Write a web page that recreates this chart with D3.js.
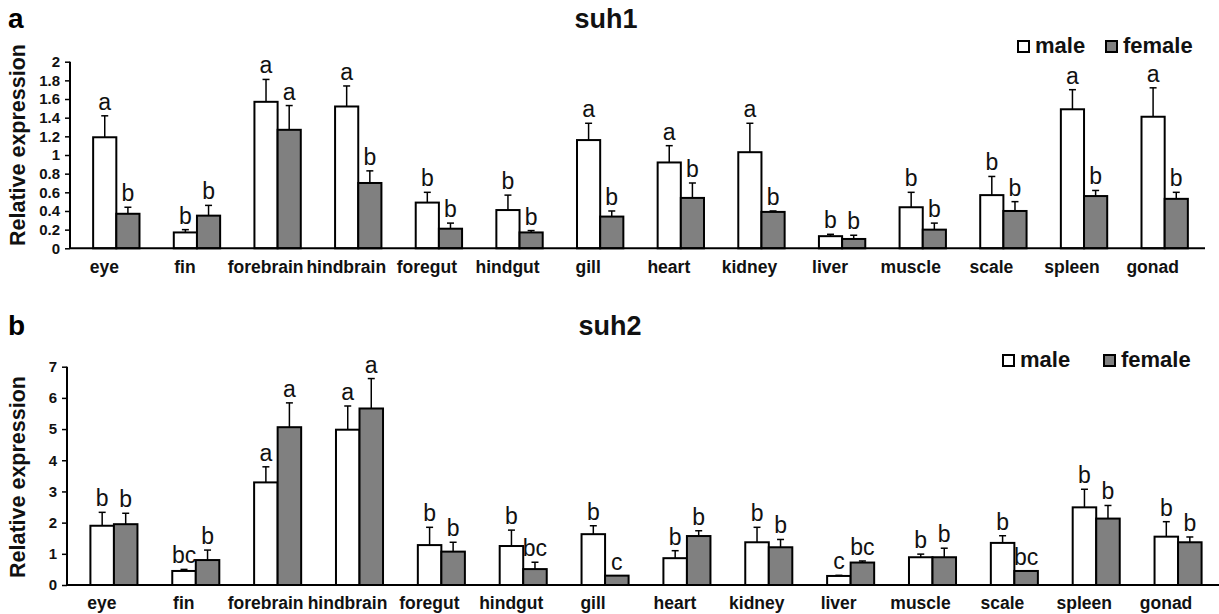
<!DOCTYPE html>
<html>
<head>
<meta charset="utf-8">
<script src="https://cdn.jsdelivr.net/npm/d3@7/dist/d3.min.js"></script>
<style>
  html, body { margin: 0; padding: 0; background: #fff; }
  svg { display: block; font-family: "Liberation Sans", Arial, sans-serif; }
</style>
</head>
<body>
<svg id="chart" width="1219" height="614"></svg>
<script>
// ---------- data ----------
const categories = ["eye","fin","forebrain","hindbrain","foregut","hindgut","gill","heart","kidney","liver","muscle","scale","spleen","gonad"];
const seriesNames = ["male","female"];

const suh1Male      = [1.19,0.17,1.57,1.52,0.49,0.41,1.16,0.92,1.03,0.13,0.44,0.57,1.49,1.41];
const suh1MaleErr   = [0.23,0.03,0.24,0.22,0.11,0.16,0.18,0.18,0.31,0.02,0.16,0.20,0.21,0.31];
const suh1Female    = [0.37,0.35,1.27,0.70,0.21,0.17,0.34,0.54,0.39,0.10,0.20,0.40,0.56,0.53];
const suh1FemaleErr = [0.07,0.11,0.26,0.13,0.06,0.02,0.06,0.16,0.01,0.04,0.07,0.10,0.06,0.07];
const suh1MaleSig   = ["a","b","a","a","b","b","a","a","a","b","b","b","a","a"];
const suh1FemaleSig = ["b","b","a","b","b","b","b","b","b","b","b","b","b","b"];
const suh1Ticks     = [0,0.2,0.4,0.6,0.8,1,1.2,1.4,1.6,1.8,2];

const suh2Male      = [1.90,0.45,3.29,4.98,1.28,1.25,1.63,0.86,1.37,0.29,0.89,1.35,2.49,1.55];
const suh2MaleErr   = [0.43,0.05,0.50,0.76,0.57,0.51,0.27,0.24,0.48,0.02,0.10,0.23,0.58,0.48];
const suh2Female    = [1.95,0.80,5.06,5.66,1.07,0.51,0.30,1.57,1.21,0.72,0.89,0.45,2.13,1.37];
const suh2FemaleErr = [0.35,0.32,0.78,0.96,0.30,0.22,0.00,0.17,0.25,0.05,0.29,0.00,0.42,0.17];
const suh2MaleSig   = ["b","bc","a","a","b","b","b","b","b","c","b","b","b","b"];
const suh2FemaleSig = ["b","b","a","a","b","bc","c","b","b","bc","b","bc","b","b"];
const suh2Ticks     = [0,1,2,3,4,5,6,7];

const fills = { male: "#ffffff", female: "#808080" };

// ---------- drawing ----------
const svg = d3.select("#chart");

function drawPanel(cfg) {
  const g = svg.append("g");
  const y = d3.scaleLinear().domain(cfg.domain).range([cfg.y0, cfg.yTop]);
  const x0 = d3.scaleBand().domain(categories).range([cfg.axisX + 6, cfg.xEnd]).paddingInner(0).paddingOuter(0);
  const x1 = d3.scaleBand().domain(seriesNames).range([0, x0.bandwidth()]).paddingInner(0).paddingOuter(0.74);

  const rows = [];
  categories.forEach((c, i) => {
    rows.push({ cat: c, s: "male", v: cfg.male[i], e: cfg.maleErr[i], sig: cfg.maleSig[i] });
    rows.push({ cat: c, s: "female", v: cfg.female[i], e: cfg.femaleErr[i], sig: cfg.femaleSig[i] });
  });

  // error bars (upper only)
  const eb = g.append("g").attr("stroke", "#000").attr("stroke-width", 1.5);
  rows.forEach(d => {
    if (d.e <= 0) return;
    const cx = x0(d.cat) + x1(d.s) + x1.bandwidth() / 2;
    eb.append("line").attr("x1", cx).attr("x2", cx).attr("y1", y(d.v)).attr("y2", y(d.v + d.e));
    eb.append("line").attr("x1", cx - 3.5).attr("x2", cx + 3.5).attr("y1", y(d.v + d.e)).attr("y2", y(d.v + d.e));
  });

  // bars
  g.append("g").selectAll("rect").data(rows).join("rect")
    .attr("x", d => x0(d.cat) + x1(d.s))
    .attr("y", d => y(d.v))
    .attr("width", x1.bandwidth())
    .attr("height", d => y(0) - y(d.v))
    .attr("fill", d => fills[d.s])
    .attr("stroke", "#000")
    .attr("stroke-width", 2);

  // significance letters
  g.append("g").selectAll("text").data(rows).join("text")
    .attr("x", d => x0(d.cat) + x1(d.s) + x1.bandwidth() / 2)
    .attr("y", d => y(d.v + d.e) - 6)
    .attr("text-anchor", "middle")
    .attr("font-size", 23)
    .attr("fill", "#111")
    .text(d => d.sig);

  // y axis
  const yAxis = d3.axisLeft(y).tickValues(cfg.ticks).tickSize(5).tickPadding(5).tickFormat(d3.format("~g"));
  const ya = g.append("g").attr("transform", `translate(${cfg.axisX},0)`).call(yAxis);
  ya.select(".domain").attr("stroke-width", 2).attr("d", `M0,${cfg.y0}V${cfg.yTop}`);
  ya.selectAll(".tick line").attr("stroke-width", 1.5);
  ya.selectAll(".tick text").attr("font-size", 15).attr("font-weight", "bold").attr("fill", "#111")
    .attr("font-family", "Liberation Sans, Arial, sans-serif");

  // x axis line
  g.append("line").attr("x1", cfg.axisX).attr("x2", cfg.xEnd).attr("y1", y(0)).attr("y2", y(0))
    .attr("stroke", "#000").attr("stroke-width", 2);

  // category labels
  g.append("g").selectAll("text").data(categories).join("text")
    .attr("x", d => x0(d) + x0.bandwidth() / 2 - 12)
    .attr("y", cfg.labelY)
    .attr("text-anchor", "middle")
    .attr("font-size", 17.5)
    .attr("font-weight", "bold")
    .attr("fill", "#111")
    .text(d => d);

  // y title
  g.append("text")
    .attr("transform", `translate(25,${cfg.yTitleY}) rotate(-90)`)
    .attr("text-anchor", "middle")
    .attr("font-size", 21.5)
    .attr("font-weight", "bold")
    .attr("fill", "#111")
    .text("Relative expression");

  // chart title
  g.append("text").attr("x", cfg.titleX).attr("y", cfg.titleY)
    .attr("text-anchor", "middle").attr("font-size", 27).attr("font-weight", "bold").attr("fill", "#111")
    .text(cfg.title);

  // panel letter
  g.append("text").attr("x", 8).attr("y", cfg.titleY)
    .attr("font-size", 28).attr("font-weight", "bold").attr("fill", "#000")
    .text(cfg.panel);

  // legend
  const lg = g.append("g");
  seriesNames.forEach((s, i) => {
    const lx = cfg.legendX[i];
    lg.append("rect").attr("x", lx).attr("y", cfg.legendY - 12).attr("width", 11).attr("height", 11)
      .attr("fill", fills[s]).attr("stroke", "#000").attr("stroke-width", 2);
    lg.append("text").attr("x", lx + 17).attr("y", cfg.legendY)
      .attr("font-size", 22).attr("font-weight", "bold").attr("fill", "#111").text(s);
  });
}

drawPanel({
  panel: "a", title: "suh1",
  male: suh1Male, maleErr: suh1MaleErr, female: suh1Female, femaleErr: suh1FemaleErr,
  maleSig: suh1MaleSig, femaleSig: suh1FemaleSig, ticks: suh1Ticks,
  domain: [0, 2], y0: 248.3, yTop: 61.7, axisX: 70, xEnd: 1205,
  labelY: 273, yTitleY: 145, titleX: 606, titleY: 28,
  legendX: [1018, 1106], legendY: 53
});

drawPanel({
  panel: "b", title: "suh2",
  male: suh2Male, maleErr: suh2MaleErr, female: suh2Female, femaleErr: suh2FemaleErr,
  maleSig: suh2MaleSig, femaleSig: suh2FemaleSig, ticks: suh2Ticks,
  domain: [0, 7], y0: 585, yTop: 366.7, axisX: 67, xEnd: 1219,
  labelY: 609, yTitleY: 477, titleX: 610, titleY: 335,
  legendX: [1003, 1104], legendY: 367
});
</script>
</body>
</html>
